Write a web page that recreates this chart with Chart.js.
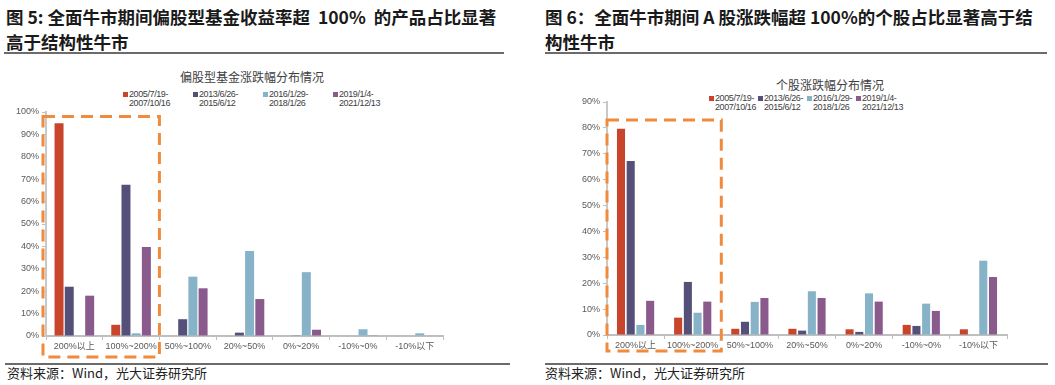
<!DOCTYPE html>
<html>
<head>
<meta charset="utf-8">
<script src="https://cdn.jsdelivr.net/npm/chart.js@4"></script>
<style>
  body { margin: 0; background: #fff; width: 1055px; height: 385px; position: relative; overflow: hidden; }
  .head { position: absolute; top: 4px; font: bold 17.5px/25px "Noto Sans CJK SC", sans-serif; color: #1a1a1a; white-space: nowrap; }
  .rule { position: absolute; height: 2px; background: #6b6b6b; }
  .src { position: absolute; top: 364px; font: 13px/18px "Noto Sans CJK SC", sans-serif; color: #222; }
  .ctitle { position: absolute; font: 12px/14px "Noto Sans CJK SC", sans-serif; color: #404040; transform: translateX(-50%); white-space: nowrap; }
  .legend { position: absolute; display: flex; font: 9px/9px "Liberation Sans", Arial, sans-serif; color: #404040; letter-spacing: -0.4px; }
  .legend .item { position: relative; padding-left: 6px; }
  .legend .sw { position: absolute; left: 0; top: 2px; width: 5px; height: 5px; }
  .box { position: absolute; }
</style>
</head>
<body>
<div class="head" style="left:6px">图 5: 全面牛市期间偏股型基金收益率超&nbsp;&nbsp;100%&nbsp;&nbsp;的产品占比显著<br>高于结构性牛市</div>
<div class="rule" style="left:4px; width:500px; top:52px"></div>
<div class="head" style="left:545px">图 6：全面牛市期间 A 股涨跌幅超 100%的个股占比显著高于结<br>构性牛市</div>
<div class="rule" style="left:545px; width:502px; top:52px"></div>

<div class="ctitle" style="left:252px; top:70px">偏股型基金涨跌幅分布情况</div>
<div class="legend" id="legL" style="left:123px; top:90px"></div>
<div class="box" style="left:0; top:100px; width:460px; height:262px"><canvas id="cL"></canvas></div>

<div class="ctitle" style="left:830px; top:78px">个股涨跌幅分布情况</div>
<div class="legend" id="legR" style="left:709px; top:94px"></div>
<div class="box" style="left:540px; top:90px; width:480px; height:272px"><canvas id="cR"></canvas></div>

<div class="rule" style="left:5px; width:505px; top:363px"></div>
<div class="rule" style="left:545px; width:503px; top:363px"></div>
<div class="src" style="left:7px">资料来源：Wind，光大证券研究所</div>
<div class="src" style="left:545px">资料来源：Wind，光大证券研究所</div>

<script>
// 分类和区间
var categories = ['200%以上', '100%~200%', '50%~100%', '20%~50%', '0%~20%', '-10%~0%', '-10%以下'];
var periods = [['2005/7/19-', '2007/10/16'], ['2013/6/26-', '2015/6/12'], ['2016/1/29-', '2018/1/26'], ['2019/1/4-', '2021/12/13']];
var colors = ['#C8442A', '#55507A', '#86B3C8', '#8B5A8D'];

// 图5: 偏股型基金 (%)
var fund0507 = [95, 5, 0, 0, 0, 0, 0];
var fund1315 = [22, 67.5, 7.5, 1.5, 0.3, 0, 0];
var fund1618 = [0, 1.2, 26.5, 38, 28.5, 3, 1.2];
var fund1921 = [18, 39.7, 21.3, 16.5, 2.8, 0.3, 0];

// 图6: A股个股 (%)
var stock0507 = [79.7, 6.7, 2.4, 2.4, 2.2, 3.9, 2.2];
var stock1315 = [67.2, 20.5, 5.1, 1.7, 1.2, 3.5, 0];
var stock1618 = [3.9, 8.6, 12.8, 16.9, 16.1, 12.1, 28.7];
var stock1921 = [13.2, 12.9, 14.3, 14.3, 12.9, 9.3, 22.4];

var tickFont = { family: '"Liberation Sans", Arial, "Noto Sans CJK SC"', size: 9 };

function makeLegend(id, itemWidth) {
  var el = document.getElementById(id);
  periods.forEach(function (p, i) {
    var d = document.createElement('div');
    d.className = 'item';
    d.style.width = (itemWidth - 6) + 'px';
    d.innerHTML = '<span class="sw" style="background:' + colors[i] + '"></span>' + p[0] + '<br>' + p[1];
    el.appendChild(d);
  });
}
makeLegend('legL', 70);
makeLegend('legR', 49);

// 橙色虚线框
var dashBox = {
  id: 'dashBox',
  afterDraw: function (chart, args, opts) {
    var x = chart.scales.x, y = chart.scales.y;
    var half = (x.getPixelForValue(1) - x.getPixelForValue(0)) / 2;
    var ctx = chart.ctx;
    ctx.save();
    ctx.strokeStyle = '#F08A3C';
    ctx.lineWidth = 3;
    ctx.setLineDash([12, 7]);
    var l = chart.chartArea.left + opts.leftShift;
    var r = x.getPixelForValue(1) + half;
    var t = y.getPixelForValue(opts.topValue);
    var b = chart.height - opts.bottomGap;
    ctx.strokeRect(l, t, r - l, b - t);
    ctx.restore();
  }
};

function makeChart(id, series, cfg) {
  return new Chart(document.getElementById(id), {
    type: 'bar',
    data: {
      labels: categories,
      datasets: series.map(function (s, i) {
        return {
          label: periods[i].join(''),
          data: s,
          backgroundColor: colors[i],
          categoryPercentage: cfg.catPct,
          barPercentage: cfg.barPct
        };
      })
    },
    options: {
      responsive: true,
      maintainAspectRatio: false,
      animation: false,
      layout: { padding: { top: 12, right: cfg.padRight, left: 0, bottom: 0 } },
      plugins: {
        legend: { display: false },
        title: { display: false },
        tooltip: { enabled: false },
        dashBox: cfg.box
      },
      scales: {
        x: {
          grid: { display: true, drawOnChartArea: false, offset: true, tickLength: 4, color: '#BFBFBF' },
          border: { color: '#BFBFBF', width: 2 },
          ticks: { font: tickFont, color: '#595959', maxRotation: 0, autoSkip: false, padding: 1 },
          afterFit: function (s) { s.height = cfg.xHeight; }
        },
        y: {
          min: 0,
          max: cfg.max,
          grid: { display: true, drawOnChartArea: false, tickLength: 4, color: '#BFBFBF' },
          border: { color: '#C8C8C8', width: 2 },
          ticks: { stepSize: 10, font: tickFont, color: '#595959', padding: 3, callback: function (v) { return v + '%'; } },
          afterFit: function (s) { s.width = cfg.yWidth; }
        }
      }
    },
    plugins: [dashBox]
  });
}

makeChart('cL', [fund0507, fund1315, fund1618, fund1921], {
  max: 100, catPct: 0.72, barPct: 0.88, padRight: 17, xHeight: 26, yWidth: 46,
  box: { leftShift: -3, topValue: 98, bottomGap: 5 }
});

makeChart('cR', [stock0507, stock1315, stock1618, stock1921], {
  max: 90, catPct: 0.68, barPct: 0.83, padRight: 13, xHeight: 27, yWidth: 67,
  box: { leftShift: 0, topValue: 83, bottomGap: 11 }
});
</script>
</body>
</html>
